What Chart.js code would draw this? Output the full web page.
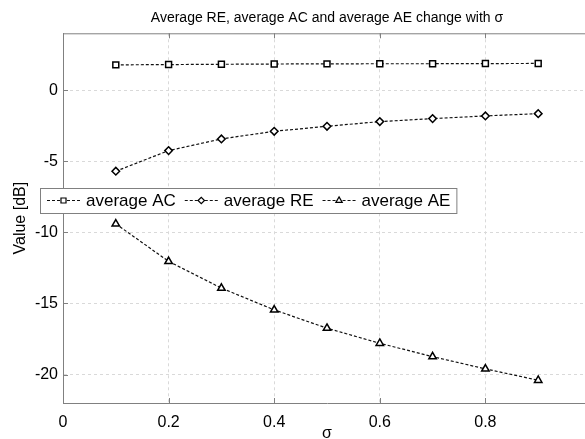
<!DOCTYPE html>
<html>
<head>
<meta charset="utf-8">
<script src="https://cdn.jsdelivr.net/npm/chart.js@4.4.0/dist/chart.umd.min.js"></script>
<style>
  html, body { margin: 0; padding: 0; overflow: hidden; background: #fff; }
  #frame { width: 585px; height: 439px; overflow: hidden; }
</style>
</head>
<body>
<div id="frame"><canvas id="sigmaChart" width="654" height="445"></canvas></div>
<script>
const sigma = [0.1, 0.2, 0.3, 0.4, 0.5, 0.6, 0.7, 0.8, 0.9];
const avgAC = [1.78, 1.80, 1.82, 1.84, 1.85, 1.86, 1.86, 1.87, 1.88];
const avgRE = [-5.70, -4.25, -3.43, -2.89, -2.54, -2.21, -2.00, -1.81, -1.65];
const avgAE = [-9.40, -12.04, -13.92, -15.45, -16.74, -17.80, -18.74, -19.60, -20.40];
const xTicks = [0, 0.2, 0.4, 0.6, 0.8];
const yTicks = [-20, -15, -10, -5, 0];

const FONT = '"Liberation Sans", Arial, Helvetica, sans-serif';
Chart.defaults.font.family = FONT;
Chart.defaults.color = '#000';

function series(label, values, style, radius) {
  return {
    label: label,
    data: sigma.map((s, i) => ({ x: s, y: values[i] })),
    borderColor: '#111',
    borderWidth: 1.2,
    borderDash: [3, 2],
    backgroundColor: '#fff',
    pointStyle: style,
    pointRadius: radius,
    pointBorderColor: '#000',
    pointBackgroundColor: '#fff',
    pointBorderWidth: 1.5,
    tension: 0
  };
}

// top edge + inward tick marks, MATLAB style
const framePlugin = {
  id: 'frame',
  afterDraw(chart) {
    const { ctx, chartArea: a, scales } = chart;
    ctx.save();
    ctx.strokeStyle = '#808080';
    ctx.lineWidth = 1;
    ctx.beginPath();
    ctx.moveTo(a.left, a.top + 0.5);
    ctx.lineTo(a.right, a.top + 0.5);
    xTicks.forEach(v => {
      const px = Math.round(scales.x.getPixelForValue(v)) + 0.5;
      ctx.moveTo(px, a.bottom); ctx.lineTo(px, a.bottom - 5);
      ctx.moveTo(px, a.top); ctx.lineTo(px, a.top + 5);
    });
    yTicks.forEach(v => {
      const py = Math.round(scales.y.getPixelForValue(v)) + 0.5;
      ctx.moveTo(a.left, py); ctx.lineTo(a.left + 5, py);
    });
    ctx.stroke();
    ctx.restore();
  }
};

// legend box sitting over the plot, left of the axis
const boxLegend = {
  id: 'boxLegend',
  afterDatasetsDraw(chart) {
    const ctx = chart.ctx;
    const left = 40, top = 188, h = 25, sample = 33;
    const cy = top + h / 2;
    ctx.save();
    ctx.font = '17px ' + FONT;
    let x = left + 7;
    const items = chart.data.datasets.map(ds => {
      const w = ctx.measureText(ds.label).width;
      const it = { ds: ds, x: x, w: w };
      x += sample + 6 + w + 9;
      return it;
    });
    const right = x - 9 + 6;
    ctx.fillStyle = '#fff';
    ctx.fillRect(left, top, right - left, h);
    ctx.strokeStyle = '#808080';
    ctx.lineWidth = 1;
    ctx.strokeRect(left + 0.5, top + 0.5, right - left, h);
    items.forEach(it => {
      ctx.strokeStyle = '#111';
      ctx.lineWidth = 1.2;
      ctx.setLineDash([3, 2]);
      ctx.beginPath();
      ctx.moveTo(it.x, cy); ctx.lineTo(it.x + sample, cy);
      ctx.stroke();
      ctx.setLineDash([]);
      ctx.strokeStyle = '#000';
      ctx.fillStyle = '#fff';
      ctx.lineWidth = 1.2;
      Chart.helpers.drawPoint(ctx, {
        pointStyle: it.ds.pointStyle,
        radius: it.ds.pointRadius * 0.85,
        borderWidth: 1.2,
        rotation: 0
      }, it.x + sample / 2, cy);
      ctx.fillStyle = '#000';
      ctx.textBaseline = 'middle';
      ctx.textAlign = 'left';
      ctx.fillText(it.ds.label, it.x + sample + 6, cy + 1);
    });
    ctx.restore();
  }
};

const ctx = document.getElementById('sigmaChart').getContext('2d');
const sigmaChart = new Chart(ctx, {
  type: 'line',
  data: {
    datasets: [
      series('average AC', avgAC, 'rect', 4.2),
      series('average RE', avgRE, 'rectRot', 3.8),
      series('average AE', avgAE, 'triangle', 4.3)
    ]
  },
  options: {
    responsive: false,
    animation: false,
    layout: { padding: 0 },
    plugins: {
      legend: { display: false },
      tooltip: { enabled: false },
      title: {
        display: true,
        text: 'Average RE, average AC and average AE change with σ',
        font: { size: 14, weight: 'normal' },
        color: '#000',
        padding: { top: 10, bottom: 6.5 }
      }
    },
    scales: {
      x: {
        type: 'linear',
        min: 0,
        max: 1,
        afterBuildTicks: s => { s.ticks = xTicks.map(v => ({ value: v })); },
        afterFit: s => { s.height = 42; },
        ticks: { font: { size: 16 }, padding: 10, maxRotation: 0 },
        grid: { color: '#d9d9d9', lineWidth: 1, drawTicks: false },
        border: { display: true, color: '#808080', width: 1, dash: [3, 3] },
        title: { display: true, text: 'σ', font: { size: 16 }, padding: { top: 0, bottom: 2 } }
      },
      y: {
        min: -22,
        max: 4,
        afterBuildTicks: s => { s.ticks = yTicks.map(v => ({ value: v })); },
        afterFit: s => { s.width = 63; },
        ticks: { font: { size: 16 }, padding: 5 },
        grid: { color: '#d9d9d9', lineWidth: 1, drawTicks: false },
        border: { display: true, color: '#808080', width: 1, dash: [3, 3] },
        title: { display: true, text: 'Value [dB]', font: { size: 16 }, padding: { top: 11, bottom: 0 } }
      },
      // hidden right-hand box so the plot runs past the cropped edge
      yRight: {
        position: 'right',
        display: false,
        min: -22,
        max: 4,
        afterFit: s => { s.width = 63; }
      }
    }
  },
  plugins: [framePlugin, boxLegend]
});
</script>
</body>
</html>
